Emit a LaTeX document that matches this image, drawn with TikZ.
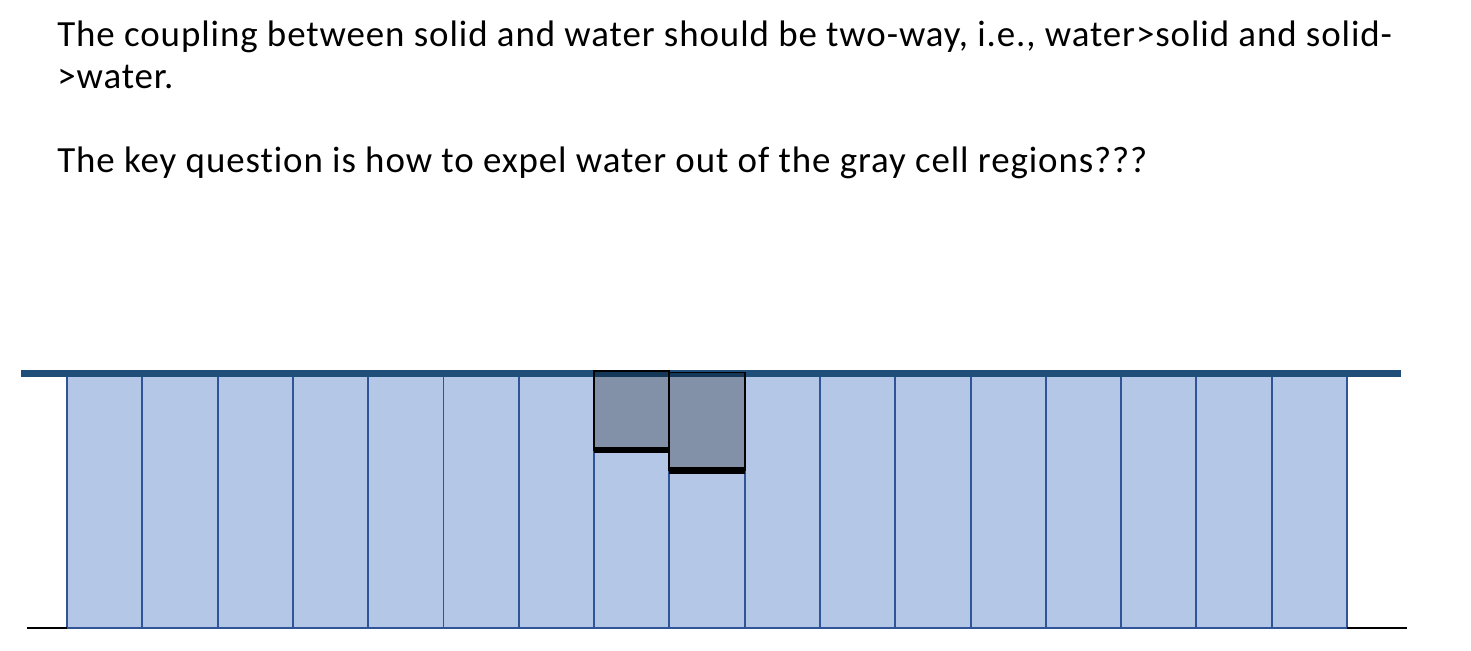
\documentclass[tikz,border=0pt]{standalone}
\usepackage{fontspec}
\setmainfont{Carlito}[LetterSpace=2.5,Ligatures=NoCommon]
\usetikzlibrary{calc}
\definecolor{waterfill}{HTML}{B4C7E7}
\definecolor{waterline}{HTML}{2F5597}
\definecolor{surface}{HTML}{1F4E79}
\begin{document}
\begin{tikzpicture}[x=0.02cm,y=-0.02cm,
  txt/.style={anchor=base west,inner sep=0pt,font=\fontsize{21}{25}\selectfont},
  cellbox/.style={fill=waterfill,draw=waterline,line width=1.1pt},
  graycell/.style={fill=black,fill opacity=0.27,draw=black,draw opacity=1,line width=0.9pt},
  cellbase/.style={line width=3.7pt}]
\useasboundingbox (0,0) rectangle (1471,650);
\node[txt] (l1) at (57,46.7) {The coupling between solid and water should be two-way, i.e., water>solid and solid-};
\node[txt] (l2) at (57,88) {>water.};
\node[txt] (l3) at (57,172) {The key question is how to expel water out of the gray cell regions???};
% water columns
\foreach \i in {0,...,16} \draw[cellbox] ({67+1280/17*\i},375) rectangle ({67+1280/17*(\i+1)},628);
\coordinate (L) at (21,373.5); \coordinate (R) at (1401,373.5);
\draw[surface,line width=4pt] (L)--(R);
\draw[line width=1.2pt] (27,628)--(67,628); \draw[line width=1.2pt] (1347,628)--(1407,628);
% gray cells
\draw[graycell] (594,371) rectangle (669,450);
\draw[graycell] (669,372.5) rectangle (745,470.5);
\draw[cellbase] (594,450)--(669,450); \draw[cellbase] (669,470.5)--(745,470.5);
\end{tikzpicture}
\end{document}
